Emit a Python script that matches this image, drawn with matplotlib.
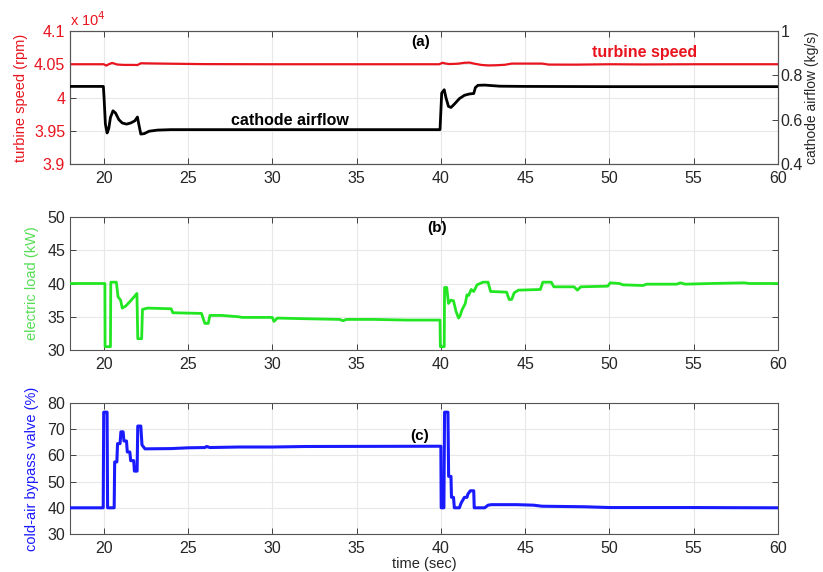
import matplotlib
matplotlib.use("Agg")
import matplotlib.pyplot as plt
from matplotlib.ticker import FuncFormatter

# ---------------- data ----------------
speed_t = [18, 20.0, 20.15, 20.3, 20.5, 20.8, 21.2, 21.8, 22.0, 22.2, 22.6, 24, 26, 30, 35,
           39.9, 40.1, 40.25, 40.5, 41, 41.4, 41.7, 42.0, 42.4, 42.8, 43.3, 43.8, 44.2, 46,
           46.4, 48, 50, 52, 55, 60]
speed_rpm = [40500, 40500, 40480, 40500, 40520, 40496, 40490, 40490, 40488, 40515, 40513,
             40508, 40502, 40500, 40500, 40500, 40522, 40512, 40503, 40508, 40522, 40525,
             40508, 40490, 40482, 40485, 40492, 40510, 40510, 40495, 40494, 40500, 40497,
             40500, 40500]

air_t = [18, 19.98, 20.02, 20.1, 20.2, 20.3, 20.4, 20.55, 20.7, 20.9, 21.1, 21.35, 21.6,
         21.85, 22.0, 22.08, 22.2, 22.4, 22.7, 23.2, 24, 39.95, 40.05, 40.2, 40.3, 40.45,
         40.6, 40.8, 41.1, 41.4, 41.7, 41.95, 42.05, 42.2, 42.6, 43.5, 45, 50, 60]
air_kgs = [0.75, 0.75, 0.70, 0.58, 0.54, 0.56, 0.61, 0.64, 0.63, 0.60, 0.585, 0.58, 0.585,
           0.595, 0.612, 0.58, 0.535, 0.537, 0.548, 0.553, 0.555, 0.555, 0.72, 0.735, 0.70,
           0.66, 0.655, 0.67, 0.695, 0.71, 0.716, 0.718, 0.745, 0.755, 0.756, 0.751, 0.750,
           0.749, 0.749]

load_t = [18, 20.07, 20.08, 20.4, 20.42, 20.75, 20.85, 21.0, 21.1, 21.3, 21.6, 21.97, 22.02,
          22.25, 22.3, 22.6, 24.0, 24.1, 25.8, 26.0, 26.2, 26.3, 27.0, 28.0, 28.2, 30.0,
          30.1, 30.3, 32.0, 34.0, 34.2, 34.4, 36, 38, 39.95, 39.97, 40.2, 40.22, 40.35,
          40.45, 40.6, 40.75, 40.9, 41.05, 41.15, 41.25, 41.45, 41.55, 41.65, 41.8, 41.95,
          42.15, 42.5, 42.8, 42.95, 43.9, 44.05, 44.2, 44.35, 44.6, 45.9, 46.05, 46.55,
          46.7, 47.9, 48.1, 48.3, 49.9, 50.05, 50.6, 50.8, 52.0, 52.2, 54.0, 54.2, 54.5,
          56, 58, 58.3, 60]
load_kw = [40, 40, 30.5, 30.5, 40.2, 40.2, 38.0, 37.5, 36.3, 36.6, 37.4, 38.5, 31.7, 31.7,
           36.1, 36.3, 36.2, 35.6, 35.5, 34.0, 34.0, 35.2, 35.2, 35.0, 34.9, 34.9, 34.3,
           34.8, 34.7, 34.6, 34.4, 34.6, 34.6, 34.5, 34.5, 30.5, 30.5, 39.4, 39.4, 37.0,
           37.5, 37.4, 35.8, 34.8, 35.2, 36.0, 37.0, 38.3, 38.2, 39.1, 38.8, 39.8, 40.2,
           40.2, 38.8, 38.7, 37.6, 37.6, 38.6, 39.0, 39.1, 40.2, 40.2, 39.5, 39.5, 39.0,
           39.5, 39.6, 40.1, 40.0, 39.8, 39.7, 39.9, 39.9, 40.1, 39.9, 40.0, 40.1, 40.0,
           40.0]

valve_t = [18, 19.97, 20.0, 20.2, 20.23, 20.62, 20.65, 20.78, 20.82, 20.97, 21.02, 21.15,
           21.2, 21.35, 21.4, 21.55, 21.6, 21.78, 21.82, 21.98, 22.02, 22.2, 22.27, 22.45,
           24, 25, 26, 26.1, 26.3, 28, 30, 32, 40, 40.02, 40.18, 40.22, 40.42, 40.46, 40.6,
           40.63, 40.75, 40.8, 41.1, 41.2, 41.4, 41.55, 41.6, 41.75, 41.95, 41.98, 42.6,
           42.8, 43.0, 44.5, 45.5, 46.0, 48.5, 50, 55, 57, 60]
valve_pct = [40, 40, 76.5, 76.5, 40, 40, 57.5, 57.5, 64.5, 64.5, 69, 69, 65.5, 65.5, 61.3,
             61.3, 58, 58, 54, 54, 71.2, 71.2, 64, 62.5, 62.6, 62.9, 63.0, 63.4, 63.0, 63.2,
             63.2, 63.4, 63.5, 40, 40, 76.5, 76.5, 52, 52, 44, 44, 40, 40, 41.8, 44, 44,
             45.2, 46.5, 46.5, 40, 40, 41.0, 41.2, 41.2, 41.0, 40.6, 40.4, 40.1, 40.1, 40.05,
             40]

x_ticks = [20, 25, 30, 35, 40, 45, 50, 55, 60]
speed_ticks = [39000, 39500, 40000, 40500, 41000]
air_ticks = [0.4, 0.6, 0.8, 1.0]
load_ticks = [30, 35, 40, 45, 50]
valve_ticks = [30, 40, 50, 60, 70, 80]

# ---------------- style ----------------
plt.rcParams['font.family'] = ['Liberation Sans', 'DejaVu Sans']
RED = '#e8141e'
GREEN = '#22e622'
LGREEN = '#55dd55'
BLUE = '#1a1aff'
TICKC = '#262626'
GRIDC = '#e8e8e8'
FS_TICK = 11.5
FS_LAB = 10.5

fig = plt.figure(figsize=(8.23, 5.72), dpi=100)
L, R = 70 / 823, 778 / 823
W = R - L


def box(top_px, bot_px):
    return [L, 1 - bot_px / 572, W, (bot_px - top_px) / 572]


def style(ax, tick_color=TICKC):
    ax.set_xlim(18, 60)
    ax.set_xticks(x_ticks)
    ax.grid(True, color=GRIDC, linewidth=0.8)
    ax.tick_params(direction='in', length=4, width=0.6, top=True, right=True,
                   labelsize=FS_TICK, colors=TICKC)
    ax.tick_params(axis='x', pad=5)
    ax.tick_params(axis='y', labelcolor=tick_color)
    for s in ax.spines.values():
        s.set_color('#555555')
        s.set_linewidth(0.8)


# ---- panel (a)
axa = fig.add_axes(box(31, 164))
style(axa, RED)
axa.tick_params(right=False)
axa.set_ylim(39000, 41000)
axa.set_yticks(speed_ticks)
axa.yaxis.set_major_formatter(FuncFormatter(lambda v, p: f'{v / 1e4:g}'))
axa.plot(speed_t, speed_rpm, color=RED, lw=1.6, zorder=3)
axa.set_ylabel('turbine speed (rpm)', color=RED, fontsize=FS_LAB, labelpad=4)
axa.text(0.0, 1.015, r'x 10$^4$', transform=axa.transAxes, color=RED, fontsize=FS_LAB,
         ha='left', va='bottom')
axa.text(38.8, 40835, '(a)', fontsize=11, fontweight='bold', ha='center', va='center')
axa.text(52.1, 40684, 'turbine speed', color=RED, fontsize=11.5, fontweight='bold',
         ha='center', va='center')

axr = axa.twinx()
axr.set_ylim(0.4, 1.0)
axr.set_yticks(air_ticks)
axr.yaxis.set_major_formatter(FuncFormatter(lambda v, p: f'{v:g}'))
axr.tick_params(direction='in', length=4, width=0.6, labelsize=FS_TICK, colors=TICKC, pad=2)
for s in axr.spines.values():
    s.set_color('#555555')
    s.set_linewidth(0.8)
axr.plot(air_t, air_kgs, color='black', lw=2.0, zorder=3)
axr.set_ylabel('cathode airflow (kg/s)', color=TICKC, fontsize=10, labelpad=1)
axr.text(31.05, 0.594, 'cathode airflow', color='black', fontsize=11.5, fontweight='bold',
         ha='center', va='center')

# ---- panel (b)
axb = fig.add_axes(box(217, 350))
style(axb)
axb.set_ylim(30, 50)
axb.set_yticks(load_ticks)
axb.plot(load_t, load_kw, color=GREEN, lw=2.0, zorder=3)
axb.set_ylabel('electric load (kW)', color=LGREEN, fontsize=FS_LAB, labelpad=6)
axb.text(39.8, 48.3, '(b)', fontsize=11, fontweight='bold', ha='center', va='center')

# ---- panel (c)
axc = fig.add_axes(box(403, 534))
style(axc)
axc.set_ylim(30, 80)
axc.set_yticks(valve_ticks)
axc.plot(valve_t, valve_pct, color=BLUE, lw=2.2, zorder=3)
axc.set_ylabel('cold-air bypass valve (%)', color=BLUE, fontsize=FS_LAB, labelpad=6)
axc.set_xlabel('time (sec)', fontsize=FS_LAB, color=TICKC, labelpad=1)
axc.text(38.75, 67.4, '(c)', fontsize=11, fontweight='bold', ha='center', va='center')

fig.savefig('out.png', dpi=100)
